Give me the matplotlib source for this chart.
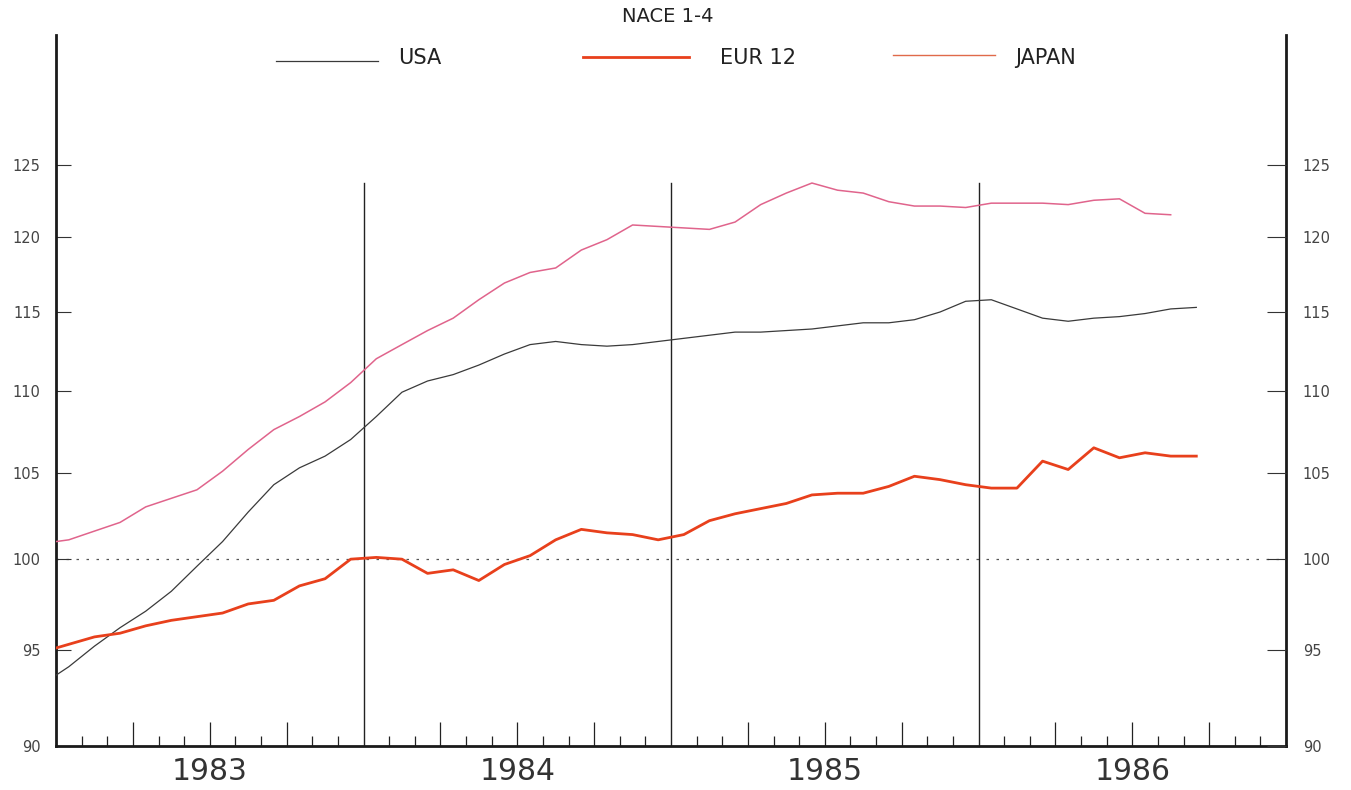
import numpy as np
import matplotlib
matplotlib.use('Agg')
import matplotlib.pyplot as plt
from matplotlib.lines import Line2D
from matplotlib.ticker import FixedLocator, NullLocator, FixedFormatter

plt.rcParams['font.family'] = ['DejaVu Sans']

# Monthly index values, Dec 1982 .. Sep 1986 (NACE 1-4)
usa = [93.2, 94.1, 95.2, 96.2, 97.1, 98.2, 99.6, 101.0, 102.7, 104.3, 105.3, 106.0,
       107.0, 108.4, 109.9, 110.6, 111.0, 111.6, 112.3, 112.9, 113.1, 112.9, 112.8,
       112.9, 113.1, 113.3, 113.5, 113.7, 113.7, 113.8, 113.9, 114.1, 114.3, 114.3,
       114.5, 115.0, 115.7, 115.8, 115.2, 114.6, 114.4, 114.6, 114.7, 114.9, 115.2, 115.3]
eur12 = [94.9, 95.3, 95.7, 95.9, 96.3, 96.6, 96.8, 97.0, 97.5, 97.7, 98.5, 98.9,
         100.0, 100.1, 100.0, 99.2, 99.4, 98.8, 99.7, 100.2, 101.1, 101.7, 101.5, 101.4,
         101.1, 101.4, 102.2, 102.6, 102.9, 103.2, 103.7, 103.8, 103.8, 104.2, 104.8,
         104.6, 104.3, 104.1, 104.1, 105.7, 105.2, 106.5, 105.9, 106.2, 106.0, 106.0]
japan = [100.9, 101.1, 101.6, 102.1, 103.0, 103.5, 104.0, 105.1, 106.4, 107.6, 108.4,
         109.3, 110.5, 112.0, 112.9, 113.8, 114.6, 115.8, 116.9, 117.6, 117.9, 119.1,
         119.8, 120.8, 120.7, 120.6, 120.5, 121.0, 122.2, 123.0, 123.7, 123.2, 123.0,
         122.4, 122.1, 122.1, 122.0, 122.3, 122.3, 122.3, 122.2, 122.5, 122.6, 121.6, 121.5]

years = ['1983', '1984', '1985', '1986']
y_ticks = [90, 95, 100, 105, 110, 115, 120, 125]

fig = plt.figure(figsize=(13.51, 7.9), dpi=100)
W, H = 1351, 790
left, right, bottom, top = 56, 1286, 745.5, 35
ax = fig.add_axes([left / W, (H - bottom) / H, (right - left) / W, (bottom - top) / H])

usa_style = dict(color='#3a3a3a', lw=0.9)
eur_style = dict(color='#e8401c', lw=2.0)
jap_style = dict(color='#e0648c', lw=1.1)

# months since Jan 1983, points sit mid-month
ax.plot(np.arange(len(usa)) - 0.5, usa, **usa_style, zorder=3)
ax.plot(np.arange(len(japan)) - 0.5, japan, **jap_style, zorder=3)
ax.plot(np.arange(len(eur12)) - 0.5, eur12, **eur_style, zorder=4)

ax.set_yscale('log')
ax.set_ylim(90, 134.5)
ax.set_xlim(0, 48)

ax.axhline(100, color='#555555', lw=0.9, ls=(0, (2, 6)), zorder=1)
for m in [12, 24, 36]:
    ax.axvline(m, ymin=0, ymax=0.792, color='#222222', lw=1.0, zorder=2)

for s in ['left', 'right', 'bottom']:
    ax.spines[s].set_linewidth(2.0)
    ax.spines[s].set_color('#1a1a1a')
ax.spines['top'].set_visible(False)

# y axis, left
ax.yaxis.set_major_locator(FixedLocator(y_ticks))
ax.yaxis.set_major_formatter(FixedFormatter([str(v) for v in y_ticks]))
ax.yaxis.set_minor_locator(NullLocator())
ax.tick_params(axis='y', which='major', direction='in', length=11, width=0.8,
               pad=11, labelsize=10.5, labelcolor='#444444', color='#333333')

# y axis, right
ax2 = ax.twinx()
ax2.set_yscale('log')
ax2.set_ylim(90, 134.5)
ax2.yaxis.set_major_locator(FixedLocator(y_ticks))
ax2.yaxis.set_major_formatter(FixedFormatter([str(v) for v in y_ticks]))
ax2.yaxis.set_minor_locator(NullLocator())
ax2.tick_params(axis='y', which='major', direction='in', length=13.5, width=0.8,
                pad=12, labelsize=10.5, labelcolor='#444444', color='#333333')
for s in ax2.spines.values():
    s.set_visible(False)

# x axis: quarter and month ticks
quarters = [m for m in range(3, 48, 3) if m % 12 != 0]
months = [m for m in range(1, 48) if m % 3 != 0]
ax.xaxis.set_major_locator(FixedLocator(quarters))
ax.xaxis.set_major_formatter(FixedFormatter([''] * len(quarters)))
ax.xaxis.set_minor_locator(FixedLocator(months))
ax.tick_params(axis='x', which='major', direction='in', length=17, width=0.9, color='#222222')
ax.tick_params(axis='x', which='minor', direction='in', length=7, width=0.9, color='#222222')

for i, yr in enumerate(years):
    ax.text(6 + 12 * i, -0.036, yr, transform=ax.get_xaxis_transform(),
            ha='center', va='center', fontsize=21.5, color='#333333')

# legend
fig.text(668 / W, 1 - 17 / H, 'NACE 1-4', ha='center', va='center',
         fontsize=14, color='#222222')
entries = [('USA', usa_style, 276, 378, 61, 398),
           ('EUR 12', eur_style, 583, 689, 57, 720),
           ('JAPAN', dict(color='#e06a4a', lw=1.0), 893, 995, 55, 1015)]
for label, style, x0, x1, yl, xt in entries:
    fig.add_artist(Line2D([x0 / W, x1 / W], [1 - yl / H, 1 - yl / H],
                          transform=fig.transFigure, **style))
    fig.text(xt / W, 1 - 58 / H, label, ha='left', va='center',
             fontsize=15, color='#222222')

fig.savefig('out.png', dpi=100, facecolor='white')
